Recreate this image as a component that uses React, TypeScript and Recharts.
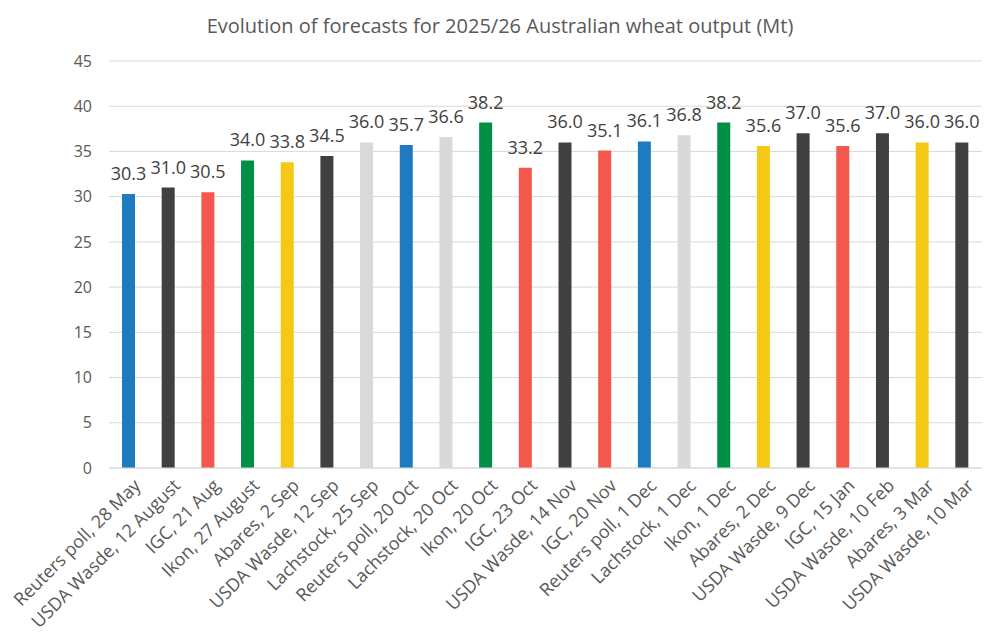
import { BarChart, Bar, XAxis, YAxis, CartesianGrid, Cell, LabelList } from "recharts";

const sources = [
  "Reuters poll, 28 May",
  "USDA Wasde, 12 August",
  "IGC, 21 Aug",
  "Ikon, 27 August",
  "Abares, 2 Sep",
  "USDA Wasde, 12 Sep",
  "Lachstock, 25 Sep",
  "Reuters poll, 20 Oct",
  "Lachstock, 20 Oct",
  "Ikon, 20 Oct",
  "IGC, 23 Oct",
  "USDA Wasde, 14 Nov",
  "IGC, 20 Nov",
  "Reuters poll, 1 Dec",
  "Lachstock, 1 Dec",
  "Ikon, 1 Dec",
  "Abares, 2 Dec",
  "USDA Wasde, 9 Dec",
  "IGC, 15 Jan",
  "USDA Wasde, 10 Feb",
  "Abares, 3 Mar",
  "USDA Wasde, 10 Mar",
];

const forecasts = [
  30.3, 31.0, 30.5, 34.0, 33.8, 34.5, 36.0, 35.7, 36.6, 38.2, 33.2,
  36.0, 35.1, 36.1, 36.8, 38.2, 35.6, 37.0, 35.6, 37.0, 36.0, 36.0,
];

const yTicks = [0, 5, 10, 15, 20, 25, 30, 35, 40, 45];

// colour by forecaster
const sourceColors: Record<string, string> = {
  Reuters: "#1f7bbf",
  USDA: "#404040",
  IGC: "#f4574b",
  Ikon: "#008f45",
  Abares: "#f5c816",
  Lachstock: "#d9d9d9",
};

const FONT = "'Open Sans', sans-serif";

const data = sources.map((name, i) => ({
  name,
  value: forecasts[i],
  color: sourceColors[name.split(/[ ,]/)[0]],
}));

const RotatedTick = (props: any) => {
  const { x, y, payload } = props;
  return (
    <g transform={`translate(${x + 5},${y + 3})`}>
      <text
        x={0}
        y={0}
        dy={11}
        textAnchor="end"
        transform="rotate(-45)"
        fontSize={18}
        fill="#595959"
        fontFamily={FONT}
      >
        {payload.value}
      </text>
    </g>
  );
};

export default function App() {
  return (
    <div style={{ position: "absolute", left: 0, top: 0, width: 1000, height: 643, background: "#fff" }}>
      <div
        style={{
          position: "absolute",
          top: 12,
          left: 0,
          width: 1000,
          textAlign: "center",
          fontFamily: FONT,
          fontSize: 20,
          color: "#595959",
        }}
      >
        Evolution of forecasts for 2025/26 Australian wheat output (Mt)
      </div>
      <BarChart
        width={1000}
        height={643}
        data={data}
        margin={{ top: 61, right: 18, left: 0, bottom: 15 }}
      >
        <CartesianGrid vertical={false} stroke="#d9d9d9" />
        <XAxis
          dataKey="name"
          interval={0}
          height={160}
          tick={<RotatedTick />}
          tickLine={false}
          axisLine={{ stroke: "#d9d9d9" }}
        />
        <YAxis
          width={109}
          domain={[0, 45]}
          ticks={yTicks}
          tickLine={false}
          axisLine={false}
          tickMargin={11}
          tick={{ fontSize: 16, fill: "#595959", fontFamily: FONT }}
        />
        <Bar dataKey="value" barSize={13} isAnimationActive={false}>
          {data.map((d, i) => (
            <Cell key={i} fill={d.color} />
          ))}
          <LabelList
            dataKey="value"
            position="top"
            offset={14}
            formatter={(v: any) => Number(v).toFixed(1)}
            style={{ fontSize: 18, fill: "#404040", fontFamily: FONT }}
          />
        </Bar>
      </BarChart>
    </div>
  );
}
